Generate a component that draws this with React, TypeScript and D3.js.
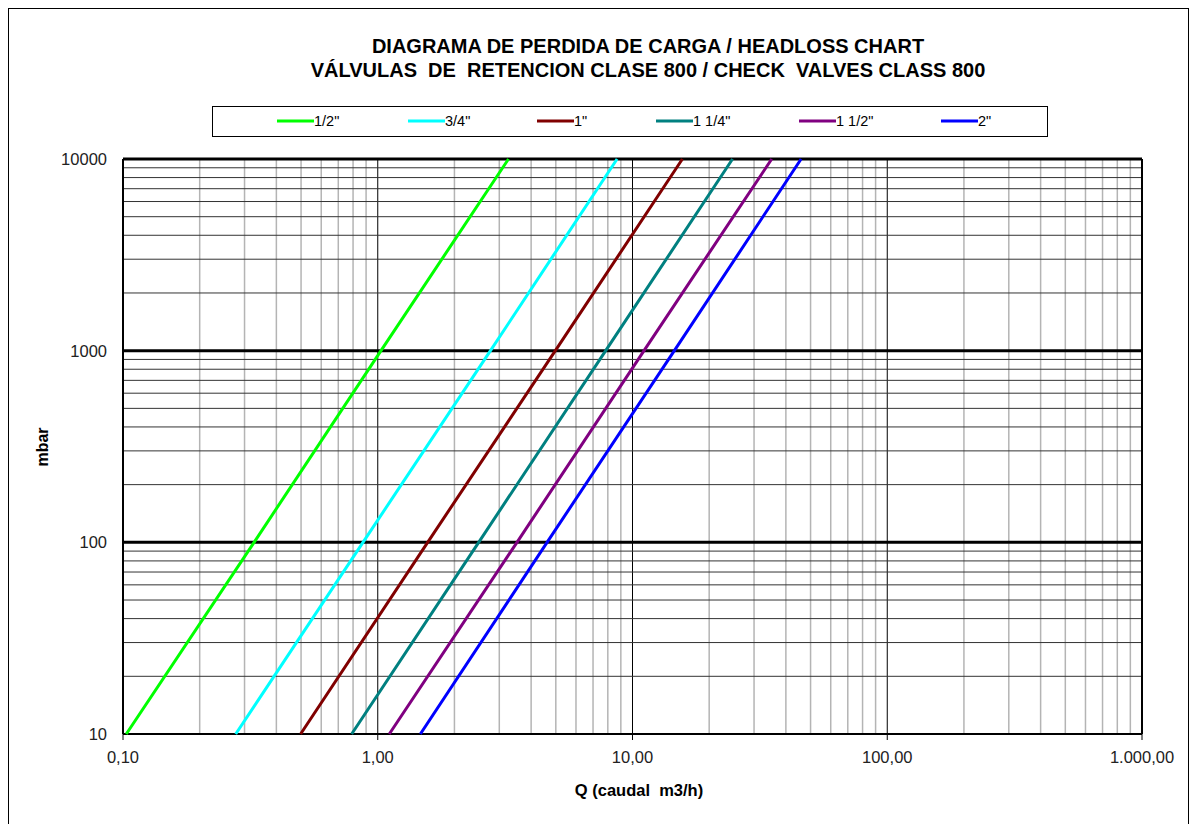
import * as d3 from "d3";

const pressure = [10, 100, 1000, 10000];

// flow Q (m3/h) for each valve size, same order as pressure
const qHalf = [0.103, 0.327, 1.03, 3.26];
const qThreeQuarter = [0.277, 0.875, 2.77, 8.7];
const qOne = [0.498, 1.57, 4.98, 15.7];
const qOneQuarter = [0.79, 2.49, 7.85, 24.7];
const qOneHalf = [1.11, 3.52, 11.1, 35.2];
const qTwo = [1.47, 4.62, 14.6, 45.9];

const seriesNames = ['1/2"', '3/4"', '1"', '1 1/4"', '1 1/2"', '2"'];
const seriesColors = ["#00ff00", "#00ffff", "#800000", "#008080", "#800080", "#0000ff"];
const seriesValues = [qHalf, qThreeQuarter, qOne, qOneQuarter, qOneHalf, qTwo];

const xTicks = [0.1, 1, 10, 100, 1000];
const xTickLabels = ["0,10", "1,00", "10,00", "100,00", "1.000,00"];
const yTicks = [10, 100, 1000, 10000];
const yTickLabels = ["10", "100", "1000", "10000"];

const W = 1196;
const H = 824;
const margin = { left: 123, right: 1142, top: 159, bottom: 734 };
const font = "Arial, 'Liberation Sans', sans-serif";
const narrow = "'Liberation Sans Narrow', 'Arial Narrow', Arial, sans-serif";

export default function App() {
  const x = d3.scaleLog().domain([0.1, 1000]).range([margin.left, margin.right]);
  const y = d3.scaleLog().domain([10, 10000]).range([margin.bottom, margin.top]);

  // minor grid values 2..9 per decade
  const minor = (lo: number, hi: number) => {
    const out: number[] = [];
    for (let d = lo; d < hi; d *= 10) {
      for (let k = 2; k <= 9; k++) out.push(d * k);
    }
    return out;
  };
  const xMinor = minor(0.1, 1000);
  const yMinor = minor(10, 10000);

  const line = d3
    .line<[number, number]>()
    .x((d) => x(d[0]))
    .y((d) => y(d[1]));

  const legendX = [277, 408, 537, 656, 799, 941];

  return (
    <svg
      width={W}
      height={H}
      style={{ position: "absolute", left: 0, top: 0, background: "#fff" }}
    >
      {/* outer frame */}
      <rect x={8.5} y={8.5} width={1180} height={840} fill="none" stroke="#000" strokeWidth={1} />

      {/* title */}
      <text x={648} y={53} textAnchor="middle" fontFamily={font} fontWeight="bold" fontSize={20}>
        DIAGRAMA DE PERDIDA DE CARGA / HEADLOSS CHART
      </text>
      <text x={648} y={77} textAnchor="middle" fontFamily={font} fontWeight="bold" fontSize={20} style={{ whiteSpace: "pre" }}>
        {"VÁLVULAS  DE  RETENCION CLASE 800 / CHECK  VALVES CLASS 800"}
      </text>

      {/* legend */}
      <rect x={212.5} y={106.5} width={835} height={30} fill="#fff" stroke="#000" strokeWidth={1} />
      {seriesNames.map((name, i) => (
        <g key={name}>
          <line x1={legendX[i]} x2={legendX[i] + 37} y1={121} y2={121} stroke={seriesColors[i]} strokeWidth={3} />
          <text x={legendX[i] + 37} y={126} fontFamily={narrow} fontSize={14.5} fill="#000">
            {name}
          </text>
        </g>
      ))}

      {/* vertical grid */}
      {xMinor.map((v) => (
        <line key={"xm" + v} x1={x(v)} x2={x(v)} y1={margin.top} y2={margin.bottom} stroke="#b4b4b4" strokeWidth={1.5} />
      ))}
      {xTicks.slice(1, -1).map((v) => (
        <line key={"xM" + v} x1={x(v)} x2={x(v)} y1={margin.top} y2={margin.bottom} stroke="#000" strokeWidth={1} />
      ))}

      {/* horizontal grid */}
      {yMinor.map((v) => (
        <line key={"ym" + v} x1={margin.left} x2={margin.right} y1={y(v)} y2={y(v)} stroke="#333" strokeWidth={1} />
      ))}
      {yTicks.slice(1, -1).map((v) => (
        <line key={"yM" + v} x1={margin.left} x2={margin.right} y1={y(v)} y2={y(v)} stroke="#000" strokeWidth={3} />
      ))}

      {/* plot border */}
      <line x1={margin.left} x2={margin.right} y1={margin.top} y2={margin.top} stroke="#000" strokeWidth={3} />
      <line x1={margin.left} x2={margin.right} y1={margin.bottom} y2={margin.bottom} stroke="#000" strokeWidth={2} />
      <line x1={margin.left} x2={margin.left} y1={margin.top} y2={margin.bottom} stroke="#000" strokeWidth={2} />
      <line x1={margin.right} x2={margin.right} y1={margin.top} y2={margin.bottom} stroke="#000" strokeWidth={2} />

      {/* series */}
      {seriesValues.map((qs, i) => (
        <path
          key={seriesNames[i]}
          d={line(qs.map((q, j) => [q, pressure[j]] as [number, number])) || ""}
          fill="none"
          stroke={seriesColors[i]}
          strokeWidth={3}
        />
      ))}

      {/* x axis ticks and labels */}
      {xTicks.map((v, i) => (
        <g key={"xt" + v}>
          <line x1={x(v)} x2={x(v)} y1={margin.bottom} y2={margin.bottom + 6} stroke="#000" strokeWidth={1} />
          <text x={x(v)} y={763} textAnchor="middle" fontFamily={font} fontSize={16.5} fill="#222">
            {xTickLabels[i]}
          </text>
        </g>
      ))}

      {/* y axis labels */}
      {yTicks.map((v, i) => (
        <text key={"yt" + v} x={107} y={y(v) + 6} textAnchor="end" fontFamily={font} fontSize={16.5} fill="#222">
          {yTickLabels[i]}
        </text>
      ))}

      {/* axis titles */}
      <text
        transform="translate(48,447) rotate(-90)"
        textAnchor="middle"
        fontFamily={font}
        fontWeight="bold"
        fontSize={16}
      >
        mbar
      </text>
      <text x={639} y={796} textAnchor="middle" fontFamily={font} fontWeight="bold" fontSize={16.5} style={{ whiteSpace: "pre" }}>
        {"Q (caudal  m3/h)"}
      </text>
    </svg>
  );
}
